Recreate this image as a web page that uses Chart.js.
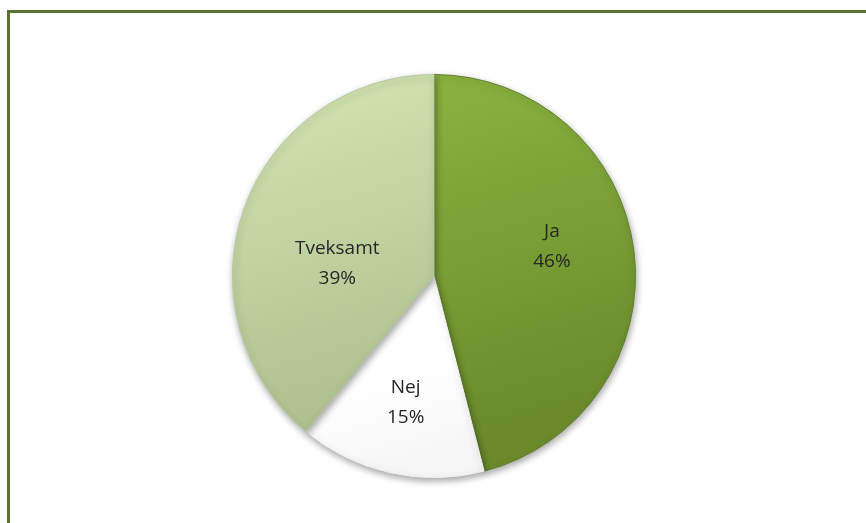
<!DOCTYPE html>
<html lang="sv">
<head>
    <meta charset="UTF-8">
    <title>Pie</title>
    <script src="https://cdn.jsdelivr.net/npm/chart.js"></script>
    <style>
        html, body {
    margin: 0;
    padding: 0;
    background: #fff;
    overflow: hidden;
}

.frame {
    position: absolute;
    left: 7px;
    top: 10px;
    width: 900px;
    height: 560px;
    border: 3px solid #5b7133;
}

#chartBox {
    position: absolute;
    left: 212px;
    top: 54px;
    width: 444px;
    height: 444px;
}
    </style>
</head>
<body>

<div class="frame"></div>
<div id="chartBox">
    <canvas id="pieChart"></canvas>
</div>

<script>
    // Data
    const categories = ['Ja', 'Nej', 'Tveksamt'];
    const shares = [46, 15, 39];

    // Gradient stops per slice (top -> bottom)
    const sliceTop = ['#8fb943', '#ffffff', '#d3e6b3'];
    const sliceBottom = ['#6a8a2b', '#f6f6f6', '#a7b988'];
    const sliceBorder = ['#5f7e27', '#f0f0f0', '#b7c99c'];

    function sliceFill(context) {
        const chart = context.chart;
        const area = chart.chartArea;
        if (!area) return sliceTop[context.dataIndex];
        const g = chart.ctx.createLinearGradient(area.left, area.top, area.left + area.width * 0.3, area.bottom);
        g.addColorStop(0, sliceTop[context.dataIndex]);
        g.addColorStop(context.dataIndex === 1 ? 0.8 : 0, sliceTop[context.dataIndex]);
        g.addColorStop(1, sliceBottom[context.dataIndex]);
        return g;
    }

    // soft drop shadow under the pie
    const shadowPlugin = {
        id: 'pieShadow',
        beforeDatasetsDraw(chart) {
            const ctx = chart.ctx;
            ctx.save();
            ctx.shadowColor = 'rgba(0, 0, 0, 0.35)';
            ctx.shadowBlur = 7;
            ctx.shadowOffsetX = 1;
            ctx.shadowOffsetY = 3;
        },
        afterDatasetsDraw(chart) {
            chart.ctx.restore();
        }
    };

    // category name + percent inside each slice (nudged like Excel's best fit)
    const labelNudge = [[-2, -14], [-2, 9], [17, 29]];
    const labelPlugin = {
        id: 'sliceLabels',
        afterDraw(chart) {
            const ctx = chart.ctx;
            const meta = chart.getDatasetMeta(0);
            ctx.save();
            ctx.font = '19px "Open Sans", sans-serif';
            ctx.fillStyle = '#262626';
            ctx.textAlign = 'center';
            ctx.textBaseline = 'middle';
            meta.data.forEach((arc, i) => {
                const p = arc.getProps(['x', 'y', 'startAngle', 'endAngle', 'outerRadius'], true);
                const mid = (p.startAngle + p.endAngle) / 2;
                const r = p.outerRadius * 0.6;
                const x = p.x + Math.cos(mid) * r + labelNudge[i][0];
                const y = p.y + Math.sin(mid) * r + labelNudge[i][1];
                ctx.fillText(categories[i], x, y - 15);
                ctx.fillText(shares[i] + '%', x, y + 15);
            });
            ctx.restore();
        }
    };

    const ctx = document.getElementById('pieChart').getContext('2d');
    const pieChart = new Chart(ctx, {
        type: 'pie',
        data: {
            labels: categories,
            datasets: [{
                data: shares,
                backgroundColor: sliceFill,
                borderColor: sliceBorder,
                borderWidth: 1
            }]
        },
        options: {
            responsive: true,
            maintainAspectRatio: false,
            animation: false,
            layout: { padding: 20 },
            plugins: {
                legend: { display: false },
                tooltip: { enabled: false }
            }
        },
        plugins: [shadowPlugin, labelPlugin]
    });
</script>

</body>
</html>
